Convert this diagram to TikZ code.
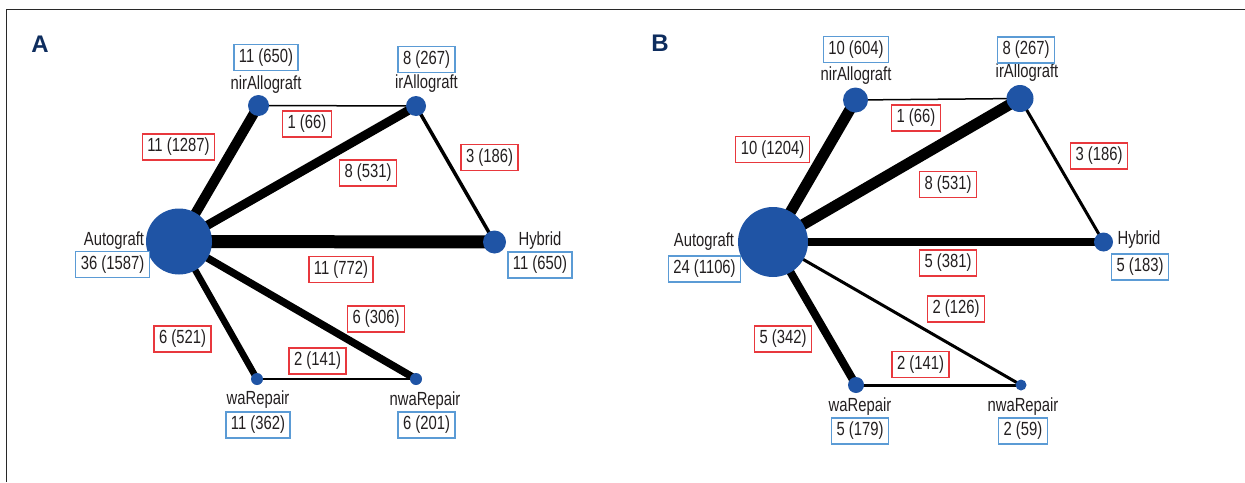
\documentclass[tikz,border=0pt]{standalone}
\usepackage{fontspec}
\setmainfont{Liberation Sans}[FakeStretch=0.78]
\newfontfamily\panelfont{Liberation Sans}
\usetikzlibrary{backgrounds}
\definecolor{nodeblue}{RGB}{31,84,165}
\definecolor{boxblue}{RGB}{91,155,213}
\definecolor{boxred}{RGB}{232,56,61}
\definecolor{txt}{RGB}{35,31,32}
\definecolor{navy}{RGB}{14,45,94}
\definecolor{framec}{RGB}{40,40,40}
\newcommand{\fsz}{\fontsize{19}{22}\selectfont}
\tikzset{
  dot/.style={circle, fill=nodeblue, inner sep=0pt, minimum size=#1},
  cntbox/.style={draw=boxblue, fill=white, line width=1.3pt, inner xsep=5pt, inner ysep=0pt, minimum height=26pt, text=txt, font=\fsz},
  edgebox/.style={draw=boxred, fill=white, line width=1.3pt, inner xsep=5pt, inner ysep=0pt, minimum height=26pt, text=txt, font=\fsz},
  nlabel/.style={inner sep=0pt, text height=13.8pt, text depth=4pt, text=txt, font=\fsz},
  panellabel/.style={inner sep=0pt, text=navy, font=\panelfont\fontsize{24}{28}\selectfont\bfseries},
  link/.style={line width=#1, draw=black},
}
\begin{document}
\begin{tikzpicture}[x=1pt,y=-1pt]
\useasboundingbox (0,0) rectangle (1245,482);
\draw[line width=1.2pt, framec] (6.5,482) -- (6.5,9.5) -- (1245,9.5);

% ---------------- Panel A ----------------
\node[panellabel] (labA) at (40,44) {A};
\node[dot=66pt] (Aauto) at (179,241.5) {};
\node[dot=21pt] (Anir) at (258.5,105.5) {};
\node[dot=20pt] (Air) at (416,106) {};
\node[dot=23pt] (Ahyb) at (494.5,242) {};
\node[dot=12pt] (Awa) at (257,379) {};
\node[dot=12pt] (Anwa) at (416,379) {};

\begin{scope}[on background layer]
\draw[link=10pt] (Aauto.center) -- (Anir.center);
\draw[link=9pt] (Aauto.center) -- (Air.center);
\draw[link=13pt] (Aauto.center) -- (Ahyb.center);
\draw[link=7.5pt] (Aauto.center) -- (Anwa.center);
\draw[link=6.5pt] (Aauto.center) -- (Awa.center);
\draw[link=1.5pt] (Anir.center) -- (Air.center);
\draw[link=3.5pt] (Air.center) -- (Ahyb.center);
\draw[link=2.5pt] (Awa.center) -- (Anwa.center);
\end{scope}

\node[nlabel] (AnirN) at (266,85) {nirAllograft};
\node[cntbox] (AnirC) at (266,57.5) {11 (650)};
\node[nlabel] (AirN) at (426.5,84) {irAllograft};
\node[cntbox] (AirC) at (426.5,59.5) {8 (267)};
\node[nlabel] (AautoN) at (114,241) {Autograft};
\node[cntbox] (AautoC) at (112.5,264.5) {36 (1587)};
\node[nlabel] (AhybN) at (540,241) {Hybrid};
\node[cntbox] (AhybC) at (540,265) {11 (650)};
\node[nlabel] (AwaN) at (258,400) {waRepair};
\node[cntbox] (AwaC) at (258,425) {11 (362)};
\node[nlabel] (AnwaN) at (425,401) {nwaRepair};
\node[cntbox] (AnwaC) at (426.5,425) {6 (201)};

\node[edgebox] (Ae1) at (178.5,147) {11 (1287)};
\node[edgebox] (Ae2) at (307,124) {1 (66)};
\node[edgebox] (Ae3) at (368,173) {8 (531)};
\node[edgebox] (Ae4) at (489.5,157.5) {3 (186)};
\node[edgebox] (Ae5) at (341,269.5) {11 (772)};
\node[edgebox] (Ae6) at (376,319) {6 (306)};
\node[edgebox] (Ae7) at (182.5,339) {6 (521)};
\node[edgebox] (Ae8) at (317.5,361) {2 (141)};

% ---------------- Panel B ----------------
\node[panellabel] (labB) at (660,43) {B};
\node[dot=70pt] (Bauto) at (773,242) {};
\node[dot=25pt] (Bnir) at (855.5,100) {};
\node[dot=27pt] (Bir) at (1020,98.5) {};
\node[dot=19pt] (Bhyb) at (1103.5,242) {};
\node[dot=16pt] (Bwa) at (856,385) {};
\node[dot=11pt] (Bnwa) at (1021,385) {};

\begin{scope}[on background layer]
\draw[link=11pt] (Bauto.center) -- (Bnir.center);
\draw[link=11pt] (Bauto.center) -- (Bir.center);
\draw[link=8pt] (Bauto.center) -- (Bhyb.center);
\draw[link=3pt] (Bauto.center) -- (Bnwa.center);
\draw[link=8pt] (Bauto.center) -- (Bwa.center);
\draw[link=1.5pt] (Bnir.center) -- (Bir.center);
\draw[link=3pt] (Bir.center) -- (Bhyb.center);
\draw[link=3pt] (Bwa.center) -- (Bnwa.center);
\end{scope}

\node[nlabel] (BnirN) at (856,76) {nirAllograft};
\node[cntbox] (BnirC) at (856,49.5) {10 (604)};
\node[nlabel] (BirN) at (1027,73) {irAllograft};
\node[cntbox] (BirC) at (1026,50) {8 (267)};
\node[nlabel] (BautoN) at (704,242) {Autograft};
\node[cntbox] (BautoC) at (704.5,269) {24 (1106)};
\node[nlabel] (BhybN) at (1139,240) {Hybrid};
\node[cntbox] (BhybC) at (1140,267) {5 (183)};
\node[nlabel] (BwaN) at (860,407) {waRepair};
\node[cntbox] (BwaC) at (860,431) {5 (179)};
\node[nlabel] (BnwaN) at (1023,407) {nwaRepair};
\node[cntbox] (BnwaC) at (1023,431) {2 (59)};

\node[edgebox] (Be1) at (772.5,149.5) {10 (1204)};
\node[edgebox] (Be2) at (916,118) {1 (66)};
\node[edgebox] (Be3) at (948,184.5) {8 (531)};
\node[edgebox] (Be4) at (1099,156) {3 (186)};
\node[edgebox] (Be5) at (948,263) {5 (381)};
\node[edgebox] (Be6) at (956,309) {2 (126)};
\node[edgebox] (Be7) at (783,339) {5 (342)};
\node[edgebox] (Be8) at (920.5,364.5) {2 (141)};
\end{tikzpicture}
\end{document}
